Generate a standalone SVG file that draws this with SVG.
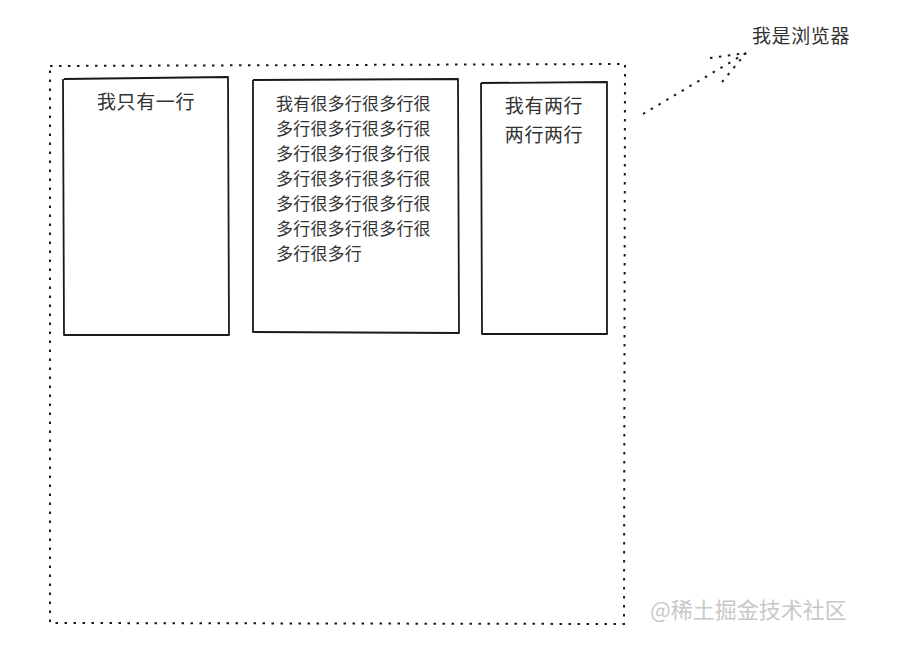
<svg xmlns="http://www.w3.org/2000/svg" width="903" height="646" viewBox="0 0 903 646">
<style>
.box{fill:none;stroke:#1a1a1a;stroke-width:1.8;stroke-linejoin:round}
.dot{fill:none;stroke:#1a1a1a;stroke-width:2;stroke-dasharray:2.5 6.5;stroke-linecap:butt}
.t{font-family:"Noto Sans CJK SC","Noto Sans CJK JP",sans-serif;fill:#333}
.t19{font-size:19px;letter-spacing:0.6px}
.t17{font-size:17px;letter-spacing:0.2px}
</style>
<rect width="903" height="646" fill="#fff"/>
<g id="browser">
<path class="dot" d="M50 66 L625 64 L624 624 L50 623 Z"/>
</g>
<g id="col1">
<path class="box" d="M64 79 L228 77 L229 335 L64 335 L63 79"/>
<text class="t t19" x="146" y="109" text-anchor="middle">我只有一行</text>
</g>
<g id="col2">
<path class="box" d="M253 80 L458 79 L459 333 L253 332 L253 80"/>
<text class="t t17">
<tspan x="276" y="110">我有很多行很多行很</tspan>
<tspan x="276" y="135">多行很多行很多行很</tspan>
<tspan x="276" y="160">多行很多行很多行很</tspan>
<tspan x="276" y="185">多行很多行很多行很</tspan>
<tspan x="276" y="210">多行很多行很多行很</tspan>
<tspan x="276" y="235">多行很多行很多行很</tspan>
<tspan x="276" y="260">多行很多行</tspan>
</text>
</g>
<g id="col3">
<path class="box" d="M481 83 L607 82 L607 334 L482 334 L481 83"/>
<text class="t t19" x="544" y="113" text-anchor="middle">我有两行</text>
<text class="t t19" x="544" y="142" text-anchor="middle">两行两行</text>
</g>
<g id="label">
<text class="t t19" x="752" y="43">我是浏览器</text>
</g>
<g id="connectors">
<path class="dot" d="M643 114 L746 53"/>
<path class="dot" d="M710 58 L746 53"/>
<path class="dot" d="M722 82 L746 53"/>
</g>
<text x="650" y="618" font-family="Noto Sans CJK SC,sans-serif" font-size="22" fill="#c8c8c8">@稀土掘金技术社区</text>
</svg>
